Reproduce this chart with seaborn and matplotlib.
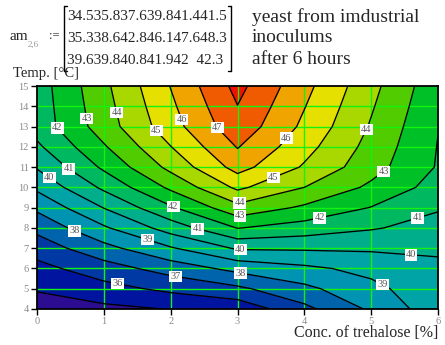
import numpy as np
import matplotlib
matplotlib.use("Agg")
import matplotlib.pyplot as plt
import seaborn as sns
from matplotlib.colors import ListedColormap, BoundaryNorm
from matplotlib.lines import Line2D

# Yield matrix: rows are trehalose 0 %, 3 %, 6 %; columns run over the temperature range
conc_pts = [0, 3, 6]
temp_pts = [4.0, 6.2, 8.4, 10.6, 12.8, 15.0]
am_0 = [34.5, 35.8, 37.6, 39.8, 41.4, 41.5]
am_3 = [35.3, 38.6, 42.8, 46.1, 47.6, 48.3]
am_6 = [39.6, 39.8, 40.8, 41.9, 42.0, 42.3]

conc_ticks = [0, 1, 2, 3, 4, 5, 6]
temp_ticks = [4, 5, 6, 7, 8, 9, 10, 11, 12, 13, 14, 15]
levels = list(range(34, 50))

band_colors = [
    "#2c0c90", "#0014a0", "#0038a4", "#0064ac", "#0094b2", "#00a4a6",
    "#00ae8c", "#00b860", "#00c028", "#50cc00", "#a8d800", "#e6e000",
    "#f0a400", "#f05a00", "#f41000",
]

# label anchor points for the contour values
label_pos = [
    (0.32, 13.0), (0.75, 13.4), (1.21, 13.7), (1.77, 12.76), (2.20, 13.4),
    (2.73, 13.06), (3.79, 12.26), (4.96, 12.81), (5.25, 10.52), (0.49, 10.97),
    (0.18, 10.47), (3.57, 10.22), (2.05, 9.13), (3.04, 9.18), (3.04, 8.53),
    (4.24, 8.33), (2.40, 7.89), (5.71, 8.33), (0.58, 7.99), (1.65, 7.39),
    (3.04, 6.84), (5.59, 6.44), (3.04, 5.70), (5.22, 5.55), (1.21, 5.25),
    (2.07, 5.45),
]

sns.set_theme(style="white")
plt.rcParams["font.family"] = ["Liberation Serif", "DejaVu Serif"]

# resample the matrix onto the integer plot grid (linear in both directions)
rows = [am_0, am_3, am_6]
by_temp = np.array([np.interp(temp_ticks, temp_pts, r) for r in rows])
Z = np.array([[np.interp(c, conc_pts, by_temp[:, j]) for c in conc_ticks]
              for j in range(len(temp_ticks))])
X, Y = np.meshgrid(conc_ticks, temp_ticks)

W, H = 445, 345
fig = plt.figure(figsize=(W / 100, H / 100), dpi=100)
fig.patch.set_facecolor("white")
ax = fig.add_axes([37 / W, 1 - 309 / H, (438 - 37) / W, (309 - 86) / H])

cmap = ListedColormap(band_colors)
norm = BoundaryNorm(levels, cmap.N)
ax.contourf(X, Y, Z, levels=levels, cmap=cmap, norm=norm, zorder=1)

for c in conc_ticks[1:-1]:
    ax.axvline(c, color="#10f410", lw=1.0, zorder=1.5)
for t in temp_ticks[1:-1]:
    ax.axhline(t, color="#10f410", lw=1.0, zorder=1.5)

cs = ax.contour(X, Y, Z, levels=levels, colors="black", linewidths=0.95, zorder=2)
labels = ax.clabel(cs, manual=label_pos, inline=False, fmt="%d", fontsize=7.5,
                   colors="#555555", zorder=3)
for t in labels:
    t.set_rotation(0)
    t.set_bbox(dict(boxstyle="square,pad=0.12", fc="white", ec="none"))

ax.set_xlim(0, 6)
ax.set_ylim(4, 15)
ax.set_xticks(conc_ticks)
ax.set_yticks(temp_ticks)
ax.tick_params(axis="both", direction="out", length=4, width=1.0, color="black",
               labelsize=7.5, labelcolor="#8a8a8a", pad=2, left=True, bottom=True)
for s in ax.spines.values():
    s.set_color("black")
    s.set_linewidth(1.3)

# axis captions
fig.text(13 / W, 1 - 74 / H, "Temp. [°C]", fontsize=10.5, ha="left", va="center")
fig.text(438 / W, 1 - 333 / H, "Conc. of trehalose [%]", fontsize=11.5,
         ha="right", va="center")

# matrix definition above the plot
fig.text(9 / W, 1 - 36 / H, "am", fontsize=11, ha="left", va="center")
fig.text(28 / W, 1 - 45 / H, "2,6", fontsize=6.5, color="#999999", ha="left", va="center")
fig.text(49 / W, 1 - 36 / H, ":=", fontsize=9, ha="left", va="center")

row_y = [17, 38, 60]
for vals, py in zip(rows, row_y):
    s = "".join(f"{v:g}".ljust(4) for v in vals)
    fig.text(67 / W, 1 - py / H, s.rstrip(), fontsize=11, ha="left", va="center")

for px, d in ((64, 1), (231, -1)):
    fig.add_artist(Line2D([px / W, px / W], [1 - 6 / H, 1 - 71 / H], color="black",
                          lw=1.0, transform=fig.transFigure))
    for py in (6, 71):
        fig.add_artist(Line2D([px / W, (px + 3 * d) / W], [1 - py / H, 1 - py / H],
                              color="black", lw=1.0, transform=fig.transFigure))

for txt, py in zip(["yeast from imdustrial", "inoculums", "after 6 hours"], row_y):
    fig.text(252 / W, 1 - py / H, txt, fontsize=14, ha="left", va="center")

fig.savefig("out.png", dpi=100)
